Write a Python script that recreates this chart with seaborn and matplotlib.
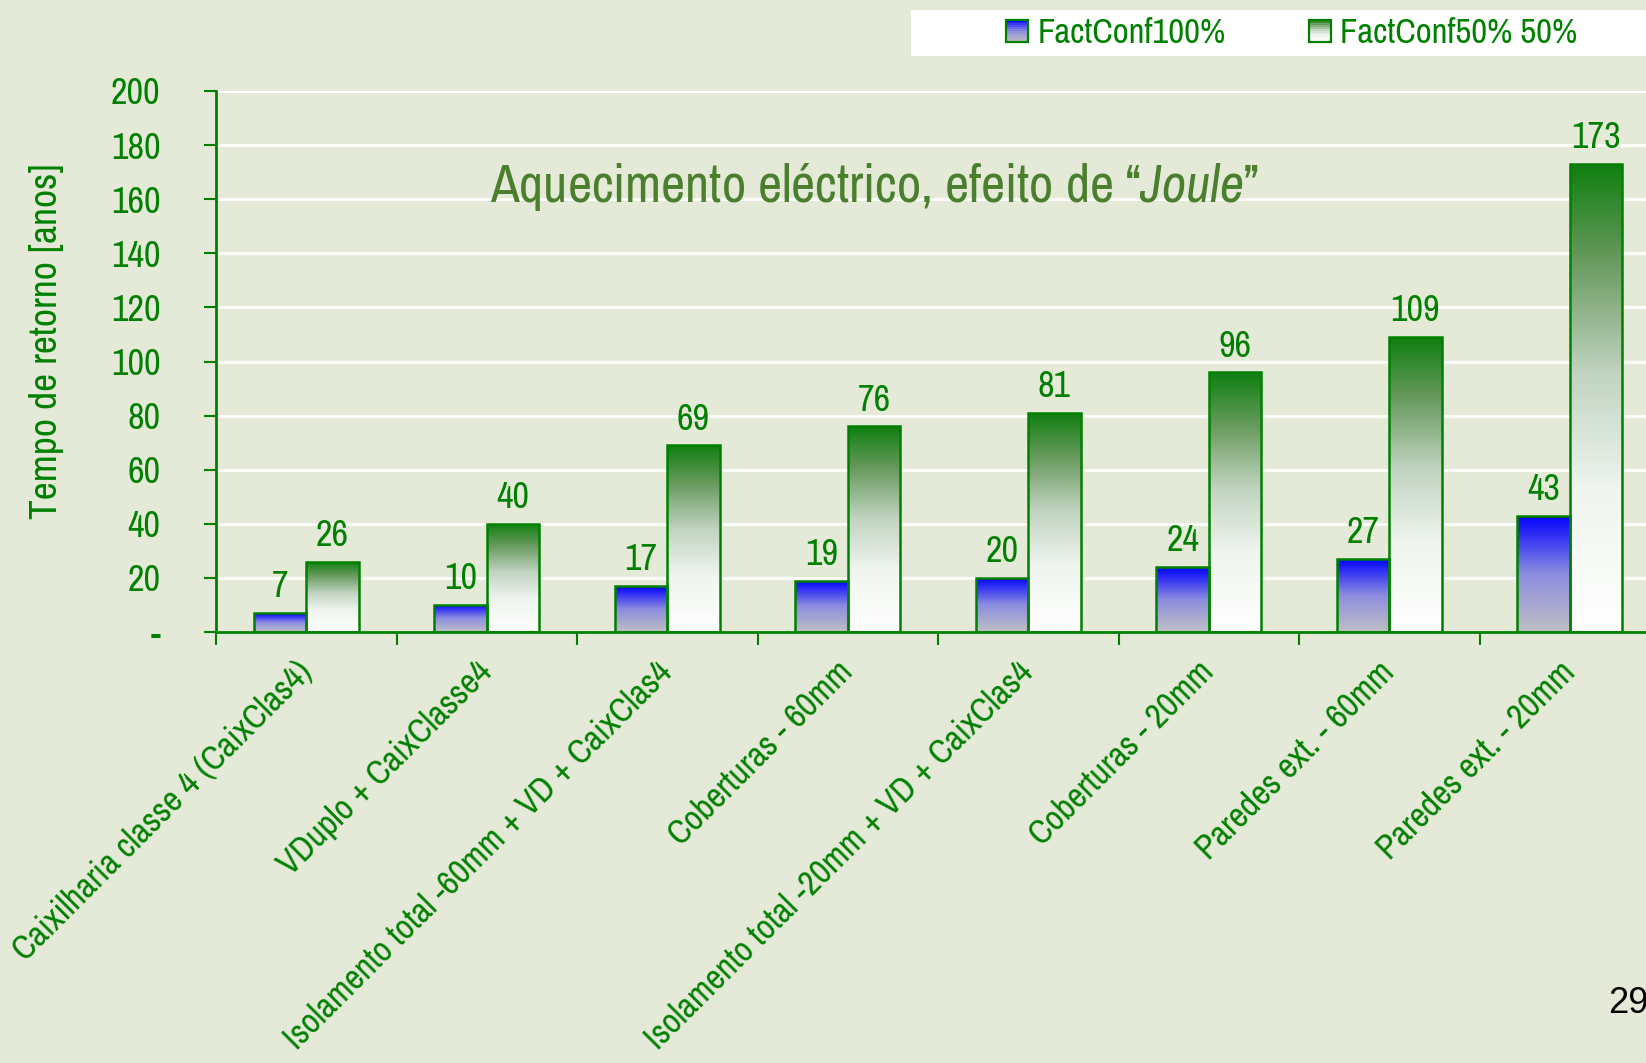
import numpy as np
import pandas as pd
import matplotlib
matplotlib.use("Agg")
import matplotlib.pyplot as plt
import seaborn as sns
from matplotlib import font_manager
from matplotlib.colors import LinearSegmentedColormap
from matplotlib.legend_handler import HandlerBase
from matplotlib.patches import Rectangle

categories = [
    "Caixilharia classe 4 (CaixClas4)",
    "VDuplo + CaixClasse4",
    "Isolamento total -60mm + VD + CaixClas4",
    "Coberturas - 60mm",
    "Isolamento total -20mm + VD + CaixClas4",
    "Coberturas - 20mm",
    "Paredes ext. - 60mm",
    "Paredes ext. - 20mm",
]
series_names = ["FactConf100%", "FactConf50% 50%"]
fc100 = [7, 10, 17, 19, 20, 24, 27, 43]
fc50 = [26, 40, 69, 76, 81, 96, 109, 173]
y_ticks = [0, 20, 40, 60, 80, 100, 120, 140, 160, 180, 200]
y_tick_labels = ["-", "20", "40", "60", "80", "100", "120", "140", "160", "180", "200"]
title_text = "Aquecimento eléctrico, efeito de “$\\mathit{Joule}$”"
y_label = "Tempo de retorno [anos]"
page_number = "29"

# ---- fonts: prefer a condensed / narrow sans if one is installed ----
cond = None
for f in font_manager.fontManager.ttflist:
    if ("Narrow" in f.name or "Condensed" in f.name) and f.style == "normal":
        cond = f.name
        break
if cond is None:
    for f in font_manager.fontManager.ttflist:
        if f.stretch in ("condensed", "semi-condensed", 75, 87.5) and f.style == "normal":
            cond = f.name
            break
base = cond if cond else "Liberation Sans"
k = 1.0 if cond else 0.82

sns.set_theme(style="white")
plt.rcParams["font.family"] = [base, "DejaVu Sans"]
plt.rcParams["mathtext.fontset"] = "custom"
plt.rcParams["mathtext.rm"] = base
plt.rcParams["mathtext.it"] = base + ":italic"

BG = "#E5E9D8"
GREEN = "#008000"
TITLE_GREEN = "#4A7F2E"

df = pd.DataFrame({
    "cat": categories * 2,
    "series": [series_names[0]] * len(categories) + [series_names[1]] * len(categories),
    "val": fc100 + fc50,
})

W, H = 1646, 1063
fig = plt.figure(figsize=(W / 100, H / 100), dpi=100, facecolor=BG)
ax = fig.add_axes([216 / W, 1 - 632 / H, 1660 / W - 216 / W, (632 - 91) / H])
ax.set_facecolor(BG)

sns.barplot(data=df, x="cat", y="val", hue="series", ax=ax, width=0.58,
            palette=["#5555ff", "#55aa55"], legend=False, saturation=1,
            edgecolor=GREEN, linewidth=1.8, zorder=3)

ax.set_xlim(-0.5, len(categories) - 0.5)
ax.set_ylim(0, 200)

blue_cmap = LinearSegmentedColormap.from_list(
    "b", [(0.0, (0.75, 0.75, 0.77)), (0.5, (0.55, 0.55, 0.88)), (1.0, (0.0, 0.0, 1.0))])
green_cmap = LinearSegmentedColormap.from_list(
    "g", [(0.0, (1, 1, 1)), (0.3, (0.94, 0.96, 0.94)), (0.55, (0.76, 0.83, 0.76)),
          (0.8, (0.4, 0.6, 0.36)), (1.0, (0.06, 0.5, 0.06))])
grad = np.linspace(0, 1, 256).reshape(-1, 1)

for cont, cmap in zip(ax.containers, [blue_cmap, green_cmap]):
    for bar in cont:
        x0, y0 = bar.get_x(), bar.get_y()
        w, h = bar.get_width(), bar.get_height()
        bar.set_facecolor("none")
        im = ax.imshow(grad, cmap=cmap, origin="lower", aspect="auto",
                       extent=[x0, x0 + w, y0, y0 + h], zorder=2.5, interpolation="bicubic")
        im.set_clip_path(bar)
    ax.bar_label(cont, labels=[str(int(v.get_height())) for v in cont], padding=7,
                 fontsize=26 * k, color=GREEN)

ax.set_xlim(-0.5, len(categories) - 0.5)
ax.set_ylim(0, 200)

ax.set_yticks(y_ticks)
ax.set_yticklabels(y_tick_labels)
ax.yaxis.grid(True, color="white", linewidth=2, zorder=0)
ax.set_axisbelow(True)
for s in ["top", "right"]:
    ax.spines[s].set_visible(False)
for s in ["left", "bottom"]:
    ax.spines[s].set_color(GREEN)
    ax.spines[s].set_linewidth(2)
    ax.spines[s].set_zorder(4)

ax.tick_params(axis="y", which="major", direction="out", length=9, width=1.5,
               color=GREEN, labelcolor=GREEN, labelsize=26 * k, pad=31, left=True)
ax.set_xticks(range(len(categories)))
ax.set_xticklabels(categories, rotation=45, ha="right", va="center",
                   rotation_mode="anchor", fontsize=25 * k, color=GREEN)
ax.tick_params(axis="x", which="major", length=0, pad=25)
ax.set_xticks(np.arange(-0.5, len(categories), 1.0), minor=True)
ax.tick_params(axis="x", which="minor", direction="out", length=9, width=1.5,
               color=GREEN, bottom=True)
ax.set_xlabel("")
ax.set_ylabel("")

fig.text(47 / W, 1 - 341 / H, y_label, rotation=90, ha="center", va="center",
         fontsize=28.5 * k, color=GREEN)

fig.text(874 / W, 1 - 202 / H, title_text, ha="center",
         va="baseline", fontsize=38 * (1.0 if cond else 0.83), color=TITLE_GREEN, zorder=5)

fig.patches.append(Rectangle((911 / W, 1 - 56 / H), (W - 911) / W, 46 / H,
                             transform=fig.transFigure, facecolor="white",
                             edgecolor="none", zorder=1))


class GradientHandler(HandlerBase):
    def __init__(self, cmap):
        super().__init__()
        self.cmap = cmap

    def create_artists(self, legend, orig_handle, xdescent, ydescent, width, height,
                       fontsize, trans):
        arts = []
        n = 12
        side = height
        x0 = -xdescent + (width - side) / 2
        y0 = -ydescent
        for i in range(n):
            c = self.cmap((i + 0.5) / n)
            arts.append(Rectangle((x0, y0 + side * i / n), side, side / n + 0.3,
                                  facecolor=c, edgecolor="none", transform=trans))
        arts.append(Rectangle((x0, y0), side, side, facecolor="none", edgecolor=GREEN,
                              linewidth=1.6, transform=trans))
        return arts


h1 = Rectangle((0, 0), 1, 1)
h2 = Rectangle((0, 0), 1, 1)
leg = fig.legend([h1, h2], series_names, loc="center",
                 bbox_to_anchor=(1292 / W, 1 - 33 / H), ncol=2, frameon=False,
                 fontsize=25 * k, labelcolor=GREEN, handlelength=0.6, handleheight=0.6,
                 handletextpad=0.3, columnspacing=2.4,
                 handler_map={h1: GradientHandler(blue_cmap), h2: GradientHandler(green_cmap)})
leg.set_zorder(3)

fig.text(1608 / W, 1 - 1013 / H, page_number, ha="left", va="baseline",
         fontsize=26, color="black", family=["Liberation Sans", "DejaVu Sans"])

fig.savefig("out.png", dpi=100, facecolor=BG)
